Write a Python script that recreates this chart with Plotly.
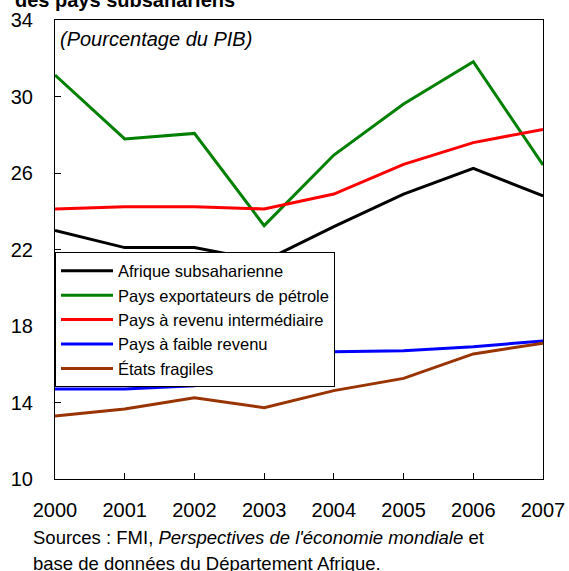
import plotly.graph_objects as go

years = [2000, 2001, 2002, 2003, 2004, 2005, 2006, 2007]
afrique = [22.99, 22.1, 22.1, 21.4, 23.2, 24.9, 26.24, 24.8]
petrole = [31.12, 27.78, 28.07, 23.25, 26.94, 29.61, 31.82, 26.42]
intermediaire = [24.12, 24.24, 24.24, 24.12, 24.9, 26.45, 27.59, 28.28]
faible = [14.71, 14.71, 14.88, 15.7, 16.66, 16.71, 16.92, 17.22]
fragiles = [13.29, 13.66, 14.25, 13.73, 14.62, 15.26, 16.54, 17.1]

series = [
    ("Afrique subsaharienne", afrique, "#000000"),
    ("Pays exportateurs de pétrole", petrole, "#008000"),
    ("Pays à revenu intermédiaire", intermediaire, "#FF0000"),
    ("Pays à faible revenu", faible, "#0000FF"),
    ("États fragiles", fragiles, "#993300"),
]

FONT = "Liberation Sans, Arial, sans-serif"

fig = go.Figure()
for name, vals, col in series:
    fig.add_trace(go.Scatter(x=years, y=vals, mode="lines", name=name,
                             line=dict(color=col, width=3)))

fig.update_layout(
    width=569, height=571,
    margin=dict(l=55, r=26, t=20, b=92),
    paper_bgcolor="white", plot_bgcolor="white",
    font=dict(family=FONT, color="black"),
    showlegend=True,
    legend=dict(x=0, y=0.4935, xanchor="left", yanchor="top",
                bgcolor="white", bordercolor="black", borderwidth=1,
                font=dict(size=16.5, family=FONT), tracegroupgap=0,
                itemwidth=52),
    xaxis=dict(range=[2000, 2007], tickvals=years, ticktext=[str(y) for y in years],
               ticks="inside", ticklen=6, tickcolor="black", showgrid=False,
               zeroline=False, showline=True, linecolor="black", linewidth=1,
               mirror=True, tickfont=dict(size=20), ticklabelstandoff=13,
               automargin=False),
    yaxis=dict(range=[10, 34], tickvals=[10, 14, 18, 22, 26, 30, 34],
               ticks="inside", ticklen=6, tickcolor="black", showgrid=False,
               zeroline=False, showline=True, linecolor="black", linewidth=1,
               mirror=True, tickfont=dict(size=20), ticklabelstandoff=17,
               automargin=False),
)

fig.add_annotation(text="<b>des pays subsahariens</b>", xref="paper", yref="paper",
                   x=0, y=1, xanchor="left", yanchor="bottom", xshift=-42, yshift=7,
                   showarrow=False, font=dict(size=20, family=FONT))
fig.add_annotation(text="<i>(Pourcentage du PIB)</i>", xref="paper", yref="paper",
                   x=0, y=1, xanchor="left", yanchor="top", xshift=3, yshift=-6,
                   showarrow=False, font=dict(size=20, family=FONT))
fig.add_annotation(text="Sources : FMI, <i>Perspectives de l'économie mondiale</i> et",
                   xref="paper", yref="paper", x=0, y=0, xanchor="left", yanchor="middle",
                   xshift=-24, yshift=-58, align="left", showarrow=False,
                   font=dict(size=18.5, family=FONT))
fig.add_annotation(text="base de données du Département Afrique.",
                   xref="paper", yref="paper", x=0, y=0, xanchor="left", yanchor="middle",
                   xshift=-24, yshift=-84, align="left", showarrow=False,
                   font=dict(size=18.5, family=FONT))

fig.write_html("out.html", config={"displayModeBar": False},
               post_script="document.body.style.margin='0';document.body.style.padding='0';")
